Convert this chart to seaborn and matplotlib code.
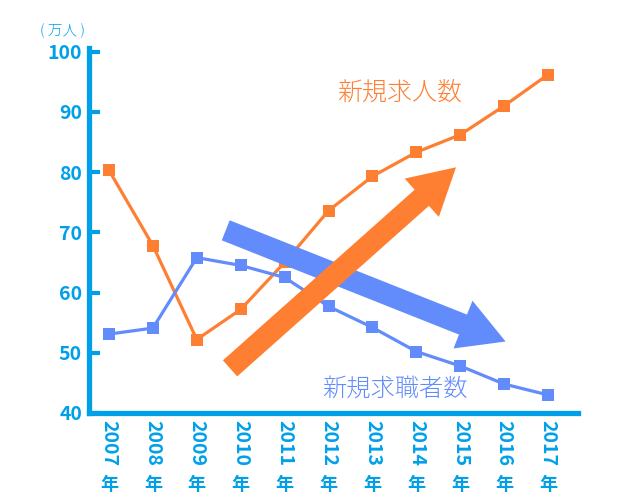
import matplotlib
matplotlib.use("Agg")
import matplotlib.pyplot as plt
import matplotlib.transforms as mtransforms
from matplotlib.patches import FancyArrowPatch, ArrowStyle
import seaborn as sns
import pandas as pd

years = [2007, 2008, 2009, 2010, 2011, 2012, 2013, 2014, 2015, 2016, 2017]
openings = [80.3, 67.8, 52.2, 57.2, 65.0, 73.6, 79.3, 83.3, 86.2, 91.0, 96.2]
seekers = [53.1, 54.1, 65.8, 64.5, 62.5, 57.7, 54.2, 50.2, 47.8, 44.8, 43.0]
yticks = [40, 50, 60, 70, 80, 90, 100]

AXIS = "#00a0e9"
ORANGE = "#ff7f32"
BLUE = "#628cfc"

sns.set_theme(style="white")
plt.rcParams["font.family"] = ["Noto Sans CJK JP", "DejaVu Sans"]

df = pd.DataFrame({"year": years, "openings": openings, "seekers": seekers})

fig = plt.figure(figsize=(6.42, 5.0), dpi=100)
ax = fig.add_axes([0.1386, 0.174, 0.7617, 0.73])

sns.lineplot(data=df, x="year", y="openings", ax=ax, color=ORANGE, lw=2.3,
             marker="s", markersize=8, markeredgewidth=0, zorder=3)
sns.lineplot(data=df, x="year", y="seekers", ax=ax, color=BLUE, lw=2.3,
             marker="s", markersize=8, markeredgewidth=0, zorder=3)

ax.set_xlim(2006.545, 2017.68)
ax.set_ylim(40, 100.6)
ax.set_xlabel("")
ax.set_ylabel("")

for s in ["top", "right"]:
    ax.spines[s].set_visible(False)
for s in ["left", "bottom"]:
    ax.spines[s].set_color(AXIS)
    ax.spines[s].set_linewidth(3.8)

ax.set_yticks(yticks)
ax.set_yticklabels([str(v) for v in yticks], color=AXIS, fontsize=14,
                   fontweight="bold")
ax.tick_params(axis="y", direction="in", length=8, width=3, color=AXIS,
               pad=5, left=True)
ax.set_xticks(years)
ax.set_xticklabels([str(y) for y in years], rotation=-90, color=AXIS,
                   fontsize=14, fontweight="bold", va="top")
ax.tick_params(axis="x", length=0, pad=5)

trans = mtransforms.blended_transform_factory(ax.transData, ax.transAxes)
for y in years:
    ax.text(y, -0.17, "年", transform=trans, ha="center", va="top",
            color=AXIS, fontsize=13, fontweight="bold")

fig.text(0.098, 0.938, "( 万人 )", ha="center", va="center", color=AXIS,
         fontsize=10.5, fontweight="light")

ax.text(2012.2, 93.2, "新規求人数", color=ORANGE, fontsize=18,
        fontweight="light", va="center")
ax.text(2011.85, 44.0, "新規求職者数", color=BLUE, fontsize=17.5,
        fontweight="light", va="center")

blue_arrow = FancyArrowPatch((2009.6, 70.5), (2016.09, 51.7),
                             arrowstyle=ArrowStyle.Simple(head_length=33,
                                                          head_width=37,
                                                          tail_width=15.5),
                             mutation_scale=1, color=BLUE, lw=0, zorder=4)
orange_arrow = FancyArrowPatch((2009.71, 47.1), (2014.95, 81.1),
                               arrowstyle=ArrowStyle.Simple(head_length=33,
                                                            head_width=37,
                                                            tail_width=15.5),
                               mutation_scale=1, color=ORANGE, lw=0, zorder=5)
ax.add_patch(blue_arrow)
ax.add_patch(orange_arrow)

fig.savefig("out.png", dpi=100)
